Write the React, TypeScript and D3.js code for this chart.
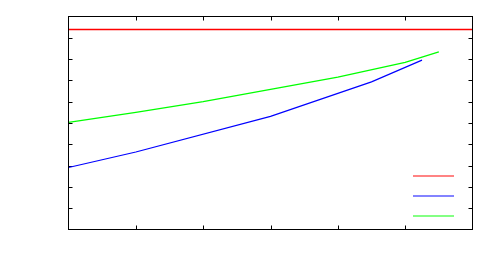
import * as d3 from 'd3';

// series (x in tick units, y in tick units)
const redX = [0, 6];
const redY = [9.39, 9.39];
const blueX = [0, 1, 3, 4.5, 5.25];
const blueY = [2.91, 3.64, 5.31, 6.93, 7.95];
const greenX = [0, 1, 2, 3, 4, 5, 5.5];
const greenY = [5.03, 5.5, 6.0, 6.58, 7.15, 7.85, 8.34];

const xTicks = [0, 1, 2, 3, 4, 5, 6];
const yTicks = [0, 1, 2, 3, 4, 5, 6, 7, 8, 9, 10];
const legendColors = ['#ff0000', '#0000ff', '#00ff00'];

export default function App() {
  const width = 500;
  const height = 279;
  const left = 68.5;
  const right = 472.5;
  const top = 16.5;
  const bottom = 229.5;

  const x = d3.scaleLinear().domain([0, 6]).range([left, right]);
  const y = d3.scaleLinear().domain([0, 10]).range([bottom, top]);

  const line = d3
    .line<[number, number]>()
    .x((d) => x(d[0]))
    .y((d) => y(d[1]));

  const series = [
    { xs: redX, ys: redY, color: '#ff0000', w: 1.3 },
    { xs: blueX, ys: blueY, color: '#0000ff', w: 1.2 },
    { xs: greenX, ys: greenY, color: '#00ff00', w: 1.2 },
  ];

  const tickLen = 4;

  return (
    <svg
      width={width}
      height={height}
      style={{ position: 'absolute', left: 0, top: 0 }}
    >
      <rect width={width} height={height} fill="#fff" />
      {xTicks.slice(1, -1).map((t) => (
        <g key={'x' + t} stroke="#000" strokeWidth={1}>
          <line x1={Math.round(x(t)) + 0.5} x2={Math.round(x(t)) + 0.5} y1={bottom} y2={bottom - tickLen} />
          <line x1={Math.round(x(t)) + 0.5} x2={Math.round(x(t)) + 0.5} y1={top} y2={top + tickLen} />
        </g>
      ))}
      {yTicks.slice(1, -1).map((t) => (
        <g key={'y' + t} stroke="#000" strokeWidth={1}>
          <line x1={left} x2={left + tickLen} y1={Math.round(y(t)) + 0.5} y2={Math.round(y(t)) + 0.5} />
          <line x1={right} x2={right - tickLen} y1={Math.round(y(t)) + 0.5} y2={Math.round(y(t)) + 0.5} />
        </g>
      ))}
      {series.map((s, i) => (
        <path
          key={i}
          d={line(s.xs.map((v, j) => [v, s.ys[j]] as [number, number])) || ''}
          fill="none"
          stroke={s.color}
          strokeWidth={s.w}
        />
      ))}
      <rect
        x={left}
        y={top}
        width={right - left}
        height={bottom - top}
        fill="none"
        stroke="#000"
        strokeWidth={1}
      />
      {legendColors.map((c, i) => (
        <line
          key={c}
          x1={413}
          x2={454}
          y1={176 + i * 20}
          y2={176 + i * 20}
          stroke={c}
          strokeOpacity={0.65}
          strokeWidth={1.5}
        />
      ))}
    </svg>
  );
}
